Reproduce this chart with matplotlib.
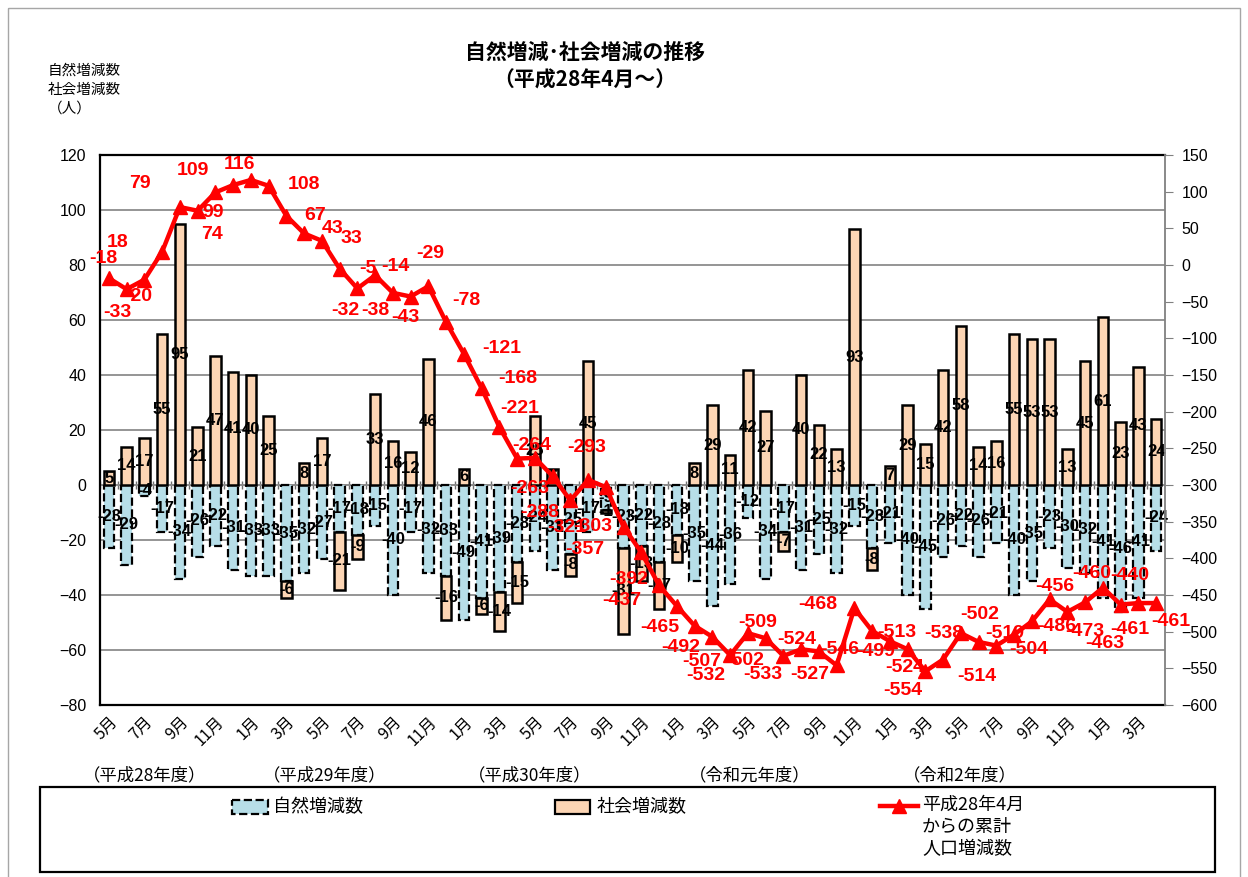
import numpy as np
import matplotlib
matplotlib.use("Agg")
import matplotlib.pyplot as plt
from matplotlib.patches import Rectangle
from matplotlib.lines import Line2D

plt.rcParams['font.family'] = ['Noto Sans CJK JP', 'DejaVu Sans']

# 平成28年5月 ～ 令和3年4月
months = ["5月", "6月", "7月", "8月", "9月", "10月", "11月", "12月", "1月", "2月", "3月",
          "4月", "5月", "6月", "7月", "8月", "9月", "10月", "11月", "12月", "1月", "2月", "3月",
          "4月", "5月", "6月", "7月", "8月", "9月", "10月", "11月", "12月", "1月", "2月", "3月",
          "4月", "5月", "6月", "7月", "8月", "9月", "10月", "11月", "12月", "1月", "2月", "3月",
          "4月", "5月", "6月", "7月", "8月", "9月", "10月", "11月", "12月", "1月", "2月", "3月",
          "4月"]

natural = [-23, -29, -4, -17, -34, -26, -22, -31, -33, -33, -35,
           -32, -27, -17, -18, -15, -40, -17, -32, -33, -49, -41, -39, -28,
           -24, -31, -25, -17, -9, -23, -22, -28, -18, -35, -44, -36,
           -12, -34, -17, -31, -25, -32, -15, -23, -21, -40, -45, -26,
           -22, -26, -21, -40, -35, -23, -30, -32, -41, -46, -41, -24]

social = [5, 14, 17, 55, 95, 21, 47, 41, 40, 25, -6,
          8, 17, -21, -9, 33, 16, 12, 46, -16, 6, -6, -14, -15,
          25, 6, -8, 45, -1, -31, -13, -17, -10, 8, 29, 11,
          42, 27, -7, 40, 22, 13, 93, -8, 7, 29, 15, 42,
          58, 14, 16, 55, 53, 53, 13, 45, 61, 23, 43, 24]

cumulative = [-18, -33, -20, 18, 79, 74, 99, 109, 116, 108, 67,
              43, 33, -5, -32, -14, -38, -43, -29, -78, -121, -168, -221, -264,
              -263, -288, -321, -293, -303, -357, -392, -437, -465, -492, -507, -532,
              -502, -509, -533, -524, -527, -546, -468, -499, -513, -524, -554, -538,
              -502, -514, -519, -504, -486, -456, -473, -460, -440, -463, -461, -461]

fiscal_years = ["（平成28年度）", "（平成29年度）", "（平成30年度）", "（令和元年度）", "（令和2年度）"]

# label offsets for the red line labels (pixels)
lab_off = [(-6, 20), (-9, -23), (-6, -17), (-44, 9), (-40, 24), (14, -24), (-2, -20), (-40, 15),
           (-11, 15), (35, 1), (29, 0), (28, 5), (30, 2), (28, 0), (-12, -22), (20, 9),
           (-17, -18), (-5, -21), (2, 33), (20, 22), (38, 5), (36, 10), (20, 19), (15, 13),
           (-5, -31), (-13, -36), (-4, -27), (-1, 32), (-13, -39), (-39, -23), (-13, -27), (-37, -15),
           (-17, -22), (-14, -22), (-11, -25), (-24, -20), (-3, -27), (-8, 16), (-21, -19), (-4, 10),
           (-9, -23), (3, 16), (-37, 4), (4, -21), (7, 9), (-3, -18), (-23, -19), (1, 26),
           (19, 19), (-2, -35), (8, 12), (15, -15), (25, -5), (5, 13), (17, -20), (7, 29),
           (27, 12), (-16, -39), (-9, -26), (15, -18)]

W, H = 1248, 877
fig = plt.figure(figsize=(W / 100, H / 100), dpi=100)
ax = fig.add_axes([100 / W, 1 - 705 / H, 1065 / W, 550 / H])

x = np.arange(len(natural))
nat = np.array(natural)
soc = np.array(social)
soc_bottom = np.where(soc >= 0, np.maximum(nat, 0), np.minimum(nat, 0))

bw = 0.58
ax.bar(x, nat, bw, color='#B7DEE8', edgecolor='black', linestyle='--', linewidth=1.6, zorder=3)
ax.bar(x, soc, bw, bottom=soc_bottom, color='#FCD5B4', edgecolor='black', linewidth=1.8, zorder=3)

lbl_font = dict(family=['Liberation Sans', 'DejaVu Sans'], fontsize=12, fontweight='bold', color='black')
for i in range(len(x)):
    ax.text(x[i], nat[i] / 2, str(nat[i]), ha='center', va='center', zorder=5, **lbl_font)
    ax.text(x[i], soc_bottom[i] + soc[i] / 2, str(soc[i]), ha='center', va='center', zorder=5, **lbl_font)

ax.set_xlim(-0.5, len(x) - 0.5)
ax.set_ylim(-80, 120)
ax.set_yticks(range(-80, 121, 20))
ax.grid(axis='y', color='#8c8c8c', linewidth=1.3, zorder=0)
ax.set_axisbelow(True)
ax.vlines(np.arange(-0.5, len(x), 1), -1.3, 1.3, color='#707070', linewidth=1, zorder=2)
ax.axhline(0, color='#8c8c8c', linewidth=1.3, zorder=2)

ax.set_xticks(x[::2])
ax.set_xticklabels(months[::2], rotation=45, ha='right', rotation_mode='anchor', fontsize=11.5)
ax.tick_params(axis='x', length=0, pad=6)
ax.tick_params(axis='y', length=0, pad=10, labelsize=11.5)
for t in ax.get_yticklabels():
    t.set_family(['Liberation Sans', 'DejaVu Sans'])
for s in ['left', 'bottom', 'top']:
    ax.spines[s].set_color('black')
    ax.spines[s].set_linewidth(1.6)
ax.spines['right'].set_visible(False)

ax2 = ax.twinx()
ax2.plot(x, cumulative, color='#FF0000', linewidth=3.2, marker='^', markersize=10, zorder=6)
ax2.set_ylim(-600, 150)
ax2.set_yticks(range(-600, 151, 50))
ax2.tick_params(axis='y', direction='out', length=6, color='#808080', labelsize=11.5, pad=6)
for t in ax2.get_yticklabels():
    t.set_family(['Liberation Sans', 'DejaVu Sans'])
ax2.spines['right'].set_color('#808080')
ax2.spines['right'].set_linewidth(1.3)
for s in ['left', 'bottom', 'top']:
    ax2.spines[s].set_visible(False)

for i, v in enumerate(cumulative):
    dx, dy = lab_off[i]
    ax2.annotate(str(v), (x[i], v), xytext=(dx, dy), textcoords='offset pixels',
                 ha='center', va='center', color='#FF0000', fontsize=14, fontweight='bold',
                 family=['Liberation Sans', 'DejaVu Sans'], zorder=7)

# overlay in pixel coordinates for titles, notes and legend
ov = fig.add_axes([0, 0, 1, 1], zorder=10)
ov.set_xlim(0, W)
ov.set_ylim(H, 0)
ov.axis('off')
ov.patch.set_alpha(0)

ov.add_patch(Rectangle((8, 8), 1232, 880, fill=False, edgecolor='#a6a6a6', linewidth=1))
ov.text(585, 52, "自然増減･社会増減の推移", ha='center', va='center', fontsize=15, fontweight='bold')
ov.text(585, 80, "（平成28年4月～）", ha='center', va='center', fontsize=15, fontweight='bold')
ov.text(48, 90, "自然増減数\n社会増減数\n（人）", ha='left', va='center', fontsize=10.5, linespacing=1.45)

for lbl, xc in zip(fiscal_years, [145, 325, 530, 750, 960]):
    ov.text(xc, 775, lbl, ha='center', va='center', fontsize=12.5)

ov.add_patch(Rectangle((40, 787), 1175, 85, fill=False, edgecolor='black', linewidth=1.6))
ov.add_patch(Rectangle((232, 800), 36, 14, facecolor='#B7DEE8', edgecolor='black', linestyle='--', linewidth=1.6))
ov.text(273, 807, "自然増減数", ha='left', va='center', fontsize=13)
ov.add_patch(Rectangle((555, 800), 35, 14, facecolor='#FCD5B4', edgecolor='black', linewidth=1.6))
ov.text(597, 807, "社会増減数", ha='left', va='center', fontsize=13)
ov.add_line(Line2D([880, 918], [806, 806], color='#FF0000', linewidth=3.2))
ov.add_line(Line2D([899], [806], color='#FF0000', marker='^', markersize=10))
ov.text(922, 796, "平成28年4月\nからの累計\n人口増減数", ha='left', va='top', fontsize=13, linespacing=1.3)

fig.savefig("out.png", dpi=100)
